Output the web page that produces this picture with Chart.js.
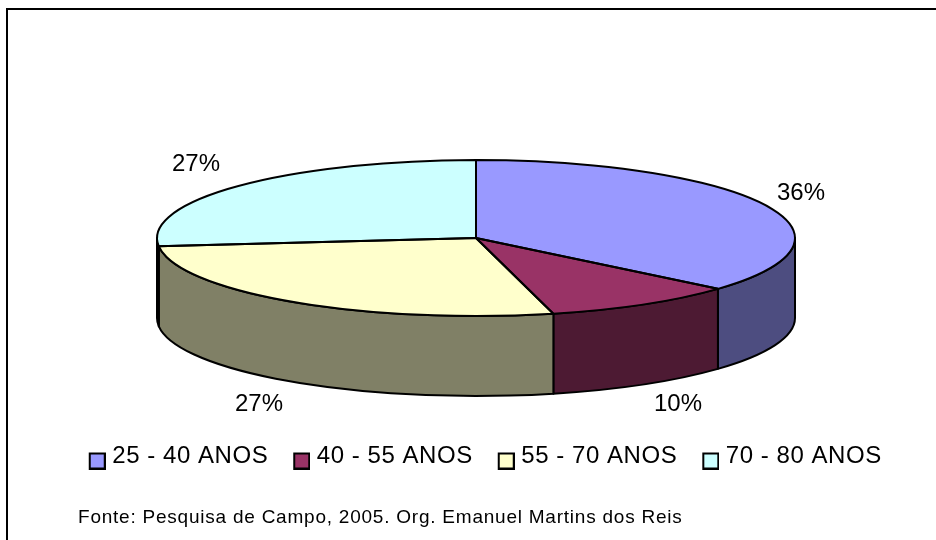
<!DOCTYPE html>
<html><head><meta charset="utf-8">
<style>html,body{margin:0;padding:0;background:#fff}canvas{display:block}</style>
<script src="https://cdn.jsdelivr.net/npm/chart.js@4"></script>
</head><body><canvas id="c" width="936" height="540"></canvas>
<script>
const categories = ['25 - 40 ANOS', '40 - 55 ANOS', '55 - 70 ANOS', '70 - 80 ANOS'];
const values = [36.3, 9.8, 27.2, 26.7];
const percentLabels = ['36%', '10%', '27%', '27%'];
const topColors = ['#9999FF', '#993366', '#FFFFCC', '#CCFFFF'];
const sideColors = ['#4D4D80', '#4D1A33', '#808066', '#668080'];
const sourceNote = 'Fonte: Pesquisa de Campo, 2005. Org. Emanuel Martins dos Reis';

const PIE = {cx: 476, cy: 238, rx: 319, ry: 78, depth: 80};
const LABEL_POS = [[801, 193], [678, 404], [259, 404], [196, 164]];
const FONT = 'Liberation Sans, Arial, sans-serif';
const LEGEND_SPACING = '0.55px';

function legendSwatch(color) {
  const cv = document.createElement('canvas');
  cv.width = 21; cv.height = 27;
  const g = cv.getContext('2d');
  g.fillStyle = color; g.fillRect(5, 11, 15, 15);
  g.strokeStyle = '#000'; g.lineWidth = 2; g.strokeRect(5, 11, 15, 15);
  return cv;
}

const pie3d = {
  id: 'pie3d',
  beforeLayout(chart) { chart.ctx.letterSpacing = LEGEND_SPACING; },
  beforeDraw(chart) {
    const c = chart.ctx;
    c.save();
    c.fillStyle = '#fff'; c.fillRect(0, 0, 936, 540);
    c.strokeStyle = '#000'; c.lineWidth = 2;
    c.beginPath();
    c.moveTo(7, 540); c.lineTo(7, 9); c.lineTo(936, 9);
    c.stroke();
    c.restore();
    c.letterSpacing = LEGEND_SPACING;
  },
  beforeDatasetsDraw(chart) {
    const c = chart.ctx, arcs = chart.getDatasetMeta(0).data;
    const {cx, cy, rx, ry, depth} = PIE;
    c.save();
    c.lineWidth = 2; c.strokeStyle = '#000'; c.lineJoin = 'round';
    arcs.forEach((a, i) => {
      const s = Math.max(a.startAngle, 0), e = Math.min(a.endAngle, Math.PI);
      if (e <= s) return;
      c.beginPath();
      c.ellipse(cx, cy, rx, ry, 0, s, e);
      c.ellipse(cx, cy + depth, rx, ry, 0, e, s, true);
      c.closePath();
      c.fillStyle = sideColors[i];
      c.fill(); c.stroke();
    });
    c.restore();
    const a0 = arcs[0];
    c.save();
    c.translate(cx, cy);
    c.scale(rx / a0.outerRadius, ry / a0.outerRadius);
    c.translate(-a0.x, -a0.y);
  },
  afterDatasetsDraw(chart) {
    const c = chart.ctx, arcs = chart.getDatasetMeta(0).data;
    const {cx, cy, rx, ry} = PIE;
    c.restore();
    c.save();
    c.lineWidth = 2; c.strokeStyle = '#000'; c.lineJoin = 'round';
    arcs.forEach(a => {
      c.beginPath();
      c.moveTo(cx, cy);
      c.ellipse(cx, cy, rx, ry, 0, a.startAngle, a.endAngle);
      c.closePath();
      c.stroke();
    });
    c.fillStyle = '#000'; c.textAlign = 'center'; c.textBaseline = 'middle';
    c.font = '24px ' + FONT; c.letterSpacing = '0px';
    percentLabels.forEach((t, i) => c.fillText(t, LABEL_POS[i][0], LABEL_POS[i][1]));
    c.textAlign = 'left'; c.font = '19px ' + FONT; c.letterSpacing = '0.77px';
    c.fillText(sourceNote, 78, 518);
    c.restore();
  }
};

new Chart(document.getElementById('c'), {
  type: 'pie',
  data: {
    labels: categories,
    datasets: [{data: values, backgroundColor: topColors, borderWidth: 0, radius: 300, clip: false}]
  },
  options: {
    responsive: false,
    animation: false,
    layout: {padding: {left: 36, right: 0, top: 0, bottom: 62}},
    plugins: {
      tooltip: {enabled: false},
      title: {display: false},
      legend: {
        display: true,
        position: 'bottom',
        labels: {
          color: '#000',
          font: {family: FONT, size: 24},
          usePointStyle: true,
          pointStyleWidth: 10,
          padding: 26.5,
          generateLabels: chart => categories.map((t, i) => ({
            text: t, index: i, datasetIndex: 0,
            fillStyle: topColors[i], strokeStyle: '#000', lineWidth: 2,
            pointStyle: legendSwatch(topColors[i])
          }))
        }
      }
    }
  },
  plugins: [pie3d]
});
</script></body></html>
